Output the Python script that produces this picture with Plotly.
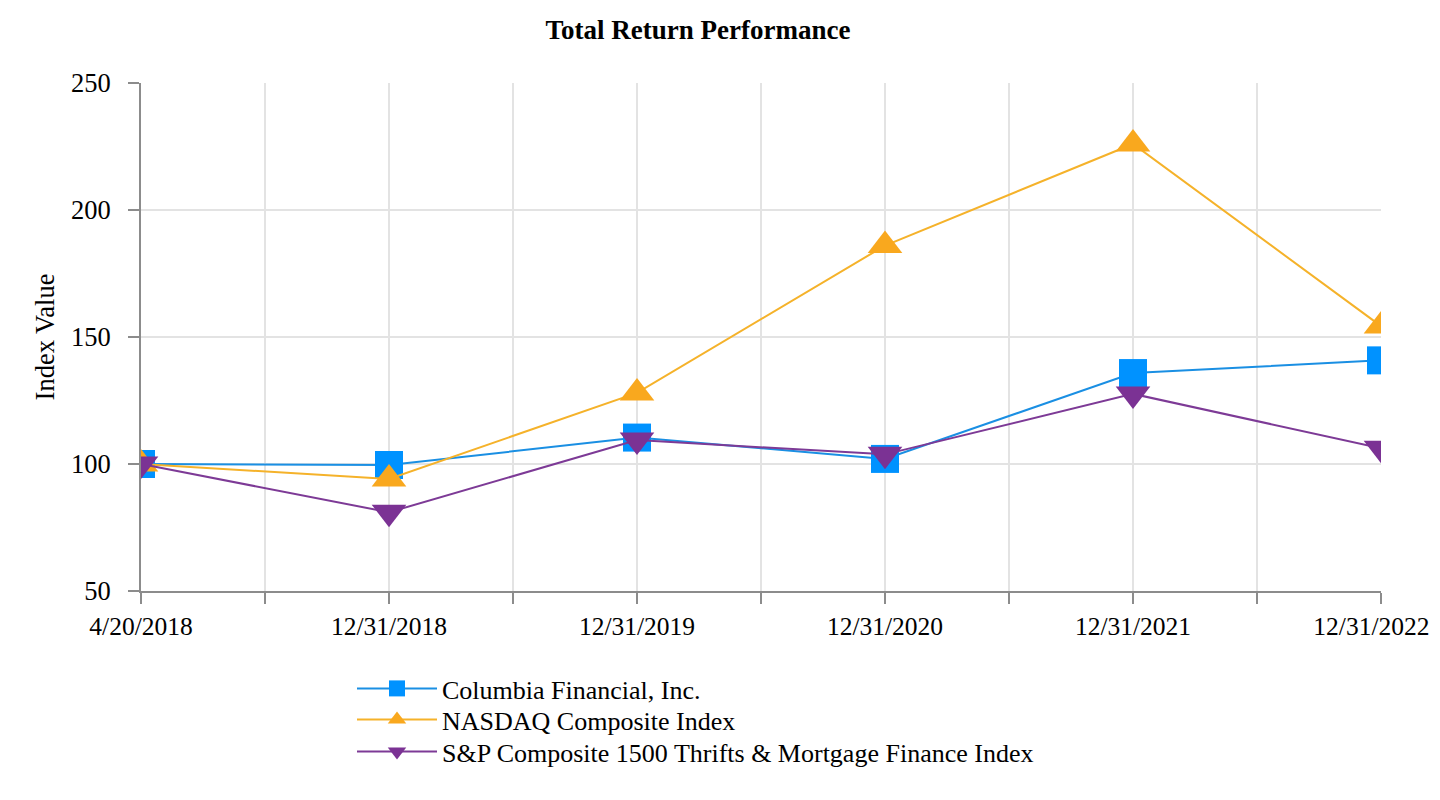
import plotly.graph_objects as go

categories = ["4/20/2018", "12/31/2018", "12/31/2019", "12/31/2020", "12/31/2021", "12/31/2022"]
columbia = [100, 99.6, 110.4, 102.0, 135.8, 140.8]
nasdaq = [100, 94.1, 128.0, 186.0, 226.0, 154.3]
sp1500 = [100, 81.0, 109.4, 103.8, 127.6, 106.2]

x_pos = list(range(len(categories)))
tickvals = [i * 0.5 for i in range(2 * len(categories) - 1)]
ticktext = [categories[int(v)] if v == int(v) else "" for v in tickvals]
# the last label sits at the right edge: pad it so it stays inside the page
ticktext[-1] = ticktext[-1] + "\u00a0\u00a0\u00a0"

FONT = "Liberation Serif, Times New Roman, serif"
OFF = 8  # page body margin
W, H = 1440 - OFF, 776
PLOT_L, PLOT_R, PLOT_T, PLOT_B = 141, 1381, 83, 591

fig = go.Figure()
fig.add_trace(go.Scatter(
    x=x_pos, y=columbia, name="Columbia Financial, Inc.", mode="lines+markers",
    line=dict(color="#1A8FE3", width=2),
    marker=dict(symbol="square", size=28, color="#0092FF"),
    legend="legend",
))
fig.add_trace(go.Scatter(
    x=x_pos, y=nasdaq, name="NASDAQ Composite Index", mode="lines+markers",
    line=dict(color="#F5B22A", width=2),
    marker=dict(symbol="triangle-up", size=30, color="#F9A81E"),
    legend="legend2",
))
fig.add_trace(go.Scatter(
    x=x_pos, y=sp1500, name="S&P Composite 1500 Thrifts & Mortgage Finance Index", mode="lines+markers",
    line=dict(color="#7D3A96", width=2),
    marker=dict(symbol="triangle-down", size=30, color="#7B3294"),
    legend="legend3",
))


def legend_at(top_px):
    return dict(x=(352 - PLOT_L) / (PLOT_R - PLOT_L), y=(PLOT_B - top_px) / (PLOT_B - PLOT_T),
                xanchor="left", yanchor="top",
                font=dict(family=FONT, size=26, color="black"),
                bgcolor="rgba(0,0,0,0)", itemsizing="trace", itemwidth=80)


fig.update_layout(
    width=W, height=H,
    margin=dict(l=PLOT_L - OFF, r=W + OFF - PLOT_R, t=PLOT_T - OFF, b=H + OFF - PLOT_B,
                autoexpand=False),
    paper_bgcolor="white", plot_bgcolor="white",
    font=dict(family=FONT, size=26, color="black"),
    title=dict(text="<b>Total Return Performance</b>", x=(698 - OFF) / W, xanchor="center",
               y=1 - (30 - OFF) / H, yanchor="middle", xref="container", yref="container",
               font=dict(family=FONT, size=27, color="black")),
    showlegend=True,
    legend=legend_at(665),
    legend2=legend_at(696),
    legend3=legend_at(728),
)
fig.update_xaxes(
    range=[0, 5], tickmode="array", tickvals=tickvals, ticktext=ticktext,
    showgrid=True, gridcolor="#E3E3E3", gridwidth=1.5,
    showline=True, linecolor="#8C8C8C", linewidth=2,
    ticks="outside", ticklen=11, tickcolor="#8C8C8C", tickwidth=2,
    zeroline=False, tickangle=0, ticklabeloverflow="allow", automargin=False,
    tickfont=dict(family=FONT, size=25.5, color="black"),
)
fig.update_yaxes(
    range=[50, 250], tickmode="linear", tick0=50, dtick=50,
    showgrid=True, gridcolor="#E3E3E3", gridwidth=1.5,
    showline=True, linecolor="#8C8C8C", linewidth=2,
    ticks="outside", ticklen=11, tickcolor="#8C8C8C", tickwidth=2,
    zeroline=False, ticklabelstandoff=12, automargin=False,
    title=dict(text="Index Value", font=dict(family=FONT, size=26.5, color="black"), standoff=9),
    tickfont=dict(family=FONT, size=26.5, color="black"),
)

fig.write_html("out.html")
